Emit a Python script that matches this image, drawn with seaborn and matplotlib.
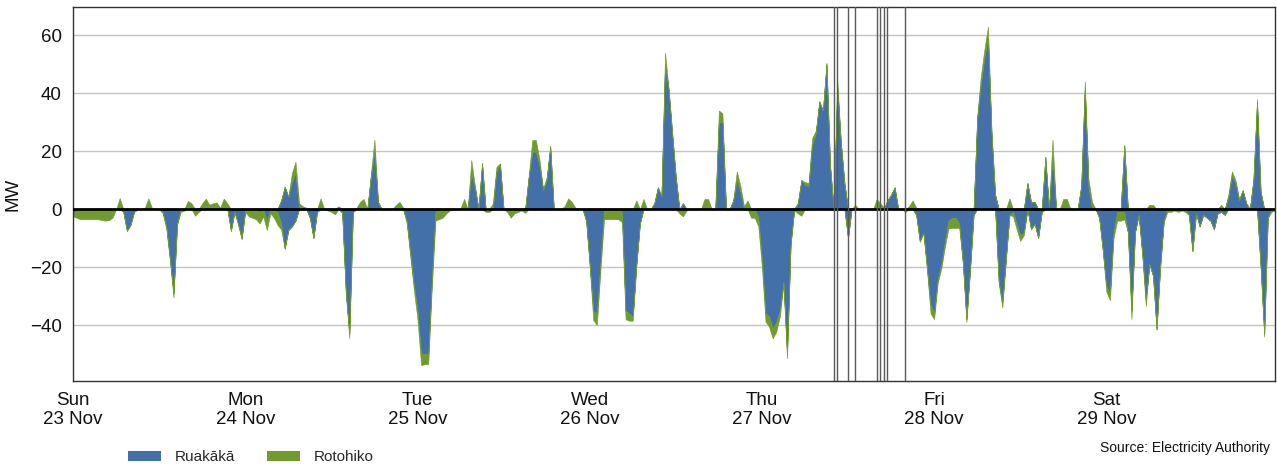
import numpy as np
import pandas as pd
import matplotlib
matplotlib.use("Agg")
import matplotlib.pyplot as plt
from matplotlib.patches import Patch
import seaborn as sns

# Half-hourly battery output (MW), Sun 23 Nov 00:00 .. Sat 29 Nov 23:30.
# One list per day, 48 trading periods each. Discharge (>0) and charge (<0)
# are kept apart so both can be stacked from the zero line.
ruakaka_gen = [
    [0, 0, 0, 0, 0, 0, 0, 0, 0, 0, 0, 0, 0, 0, 0, 0, 0, 0, 0, 0, 0, 0, 0, 0,
     0, 0, 0, 0, 0, 0, 0, 0, 0, 0, 0, 0, 0, 0, 0, 0, 0, 0, 0, 0, 0, 0, 0, 0],
    [0, 0, 0, 0, 0, 0, 0, 0, 0, 0, 3, 7.7, 4.3, 9.4, 12.3, 0, 0, 0, 0, 0, 0, 0, 0, 0,
     0, 0, 0, 0, 0, 0, 0, 0, 0, 0, 0, 11, 20, 2.5, 0, 0, 0, 0, 0, 0, 0, 0, 0, 0],
    [0, 0, 0, 0, 0, 0, 0, 0, 0, 0, 0, 0, 0, 0, 0, 12.3, 7.5, 0, 15.7, 0, 0, 0, 13, 15.5,
     0, 0, 0, 0, 0, 0, 0, 11, 19.8, 19.8, 15, 6.5, 10, 21.5, 0, 0, 0, 0, 0, 0, 0, 0, 0, 0],
    [0, 0, 0, 0, 0, 0, 0, 0, 0, 0, 0, 0, 0, 0, 0, 0, 0, 0, 2, 7.5, 4.5, 50, 41, 26,
     11, 0, 2, 0, 0, 0, 0, 0, 0, 0, 0, 0, 30, 30, 0, 0, 3, 10, 6, 0, 0, 0, 0, 0],
    [0, 0, 0, 0, 0, 0, 0, 0, 0, 0, 2, 10, 8.3, 8, 22, 26, 37, 34, 50, 15, 0, 42, 23, 9,
     0, 0, 0, 0, 0, 0, 0, 0, 0, 0, 0, 3, 5, 7.5, 0, 0, 0, 0, 0, 0, 0, 0, 0, 0],
    [0, 0, 0, 0, 0, 0, 0, 0, 0, 0, 0, 0, 31, 43, 52, 59, 26, 5, 0, 0, 0, 0, 0, 0,
     0, 0, 9, 2.5, 2.5, 0, 0, 18, 0, 18, 0, 0, 0, 0, 0, 0, 0, 8, 42, 8, 0, 0, 0, 0],
    [0, 0, 0, 0, 0, 22, 0, 0, 0, 0, 0, 0, 0, 0, 0, 0, 0, 0, 0, 0, 0, 0, 0, 0,
     0, 0, 0, 0, 0, 0, 0, 0, 0, 0, 4, 11.5, 9, 3, 6.5, 2, 0, 10, 37, 6, 0, 0, 0, 0],
]

rotohiko_gen = [
    [0, 0, 0, 0, 0, 0, 0, 0, 0, 0, 0, 0, 0, 3.8, 0, 0, 0, 0, 0, 0, 0.5, 3.7, 0.3, 0.2,
     0, 0, 0, 0, 0, 0, 0, 0, 2.8, 2, 0, 0, 2, 3.6, 1.5, 2, 2.3, 0.5, 3.6, 2, 0, 0, 0, 0],
    [0, 0, 0, 0, 0, 0, 0, 0, 0, 0, 0, 0, 0, 3, 4, 2, 1, 0.5, 0, 0, 0, 3.7, 0, 0,
     0, 0, 1, 0, 0, 0, 0, 0.5, 2.5, 3.5, 0, 1, 4, 0, 0, 0, 0, 0, 1.5, 2.5, 0.5, 0, 0, 0],
    [0, 0, 0, 0, 0, 0, 0, 0, 0, 0, 0, 0, 0.3, 3.5, 0, 4.6, 0.5, 0, 0.3, 0, 0, 2, 1.5, 0.3,
     0, 0, 0, 0, 0, 0, 0, 0.5, 4, 4, 2, 0.5, 1, 0.5, 0, 0, 0, 1, 3.7, 2.5, 0.5, 0, 0, 0],
    [0, 0, 0, 0, 0, 0, 0, 0, 0, 0, 0, 0, 0, 3, 0, 3.5, 0, 0, 0, 0, 0, 4, 0.5, 0,
     0, 0, 0, 0, 0, 0, 0, 0, 3.5, 3.5, 0, 0, 4, 3, 0, 0, 0, 3, 2, 1, 3, 0, 0, 0],
    [0, 0, 0, 0, 0, 0, 0, 0, 0, 0, 0, 0, 1, 1, 2.5, 1, 0.3, 0, 0.5, 0, 0, 2.5, 0.3, 0,
     0, 0, 1.5, 0, 0, 0, 0, 0, 3.5, 2, 0.5, 0, 0, 0, 0, 0, 0, 1, 3, 0.5, 0, 0, 0, 0],
    [0, 0, 0, 0, 0, 0, 0, 0, 0, 0, 0, 0, 1, 2.6, 3, 4, 0.5, 0, 0, 0, 0, 3.7, 0, 0,
     0, 0, 0, 0, 0, 0, 0, 0, 0, 6, 0, 0, 3.5, 3.5, 0, 0, 0, 0, 2, 2.5, 2.5, 0, 0, 0],
    [0, 0, 0, 0, 0, 0, 0, 0, 0, 0, 0, 0, 1.5, 1.5, 0, 0, 0, 0, 0, 0, 0, 0, 0, 0,
     0, 0, 0, 0, 0, 0, 0, 0, 1.5, 0, 1, 1.5, 1, 0.5, 0, 0, 0, 0.5, 1, 0, 0, 0, 0, 0],
]

ruakaka_load = [
    [-1.5, -0.5, 0, 0, 0, 0, 0, 0, 0, 0, 0, 0, 0, 0, -1, -7.5, -5.5, -1, 0, 0, 0, 0, 0, 0,
     0, -1, -6, -17, -29, -5, 0, 0, 0, 0, 0, 0, 0, 0, 0, 0, 0, 0, 0, 0, -7.5, -1, -5, -10],
    [0, 0, 0, -0.5, -1, 0, -4, 0, -0.5, -1, -5, -13.5, -7, -6, -4, 0, 0, 0, -3, -10, -1, 0, 0, 0,
     0, 0, 0, -1, -28, -43, -1, 0, 0, 0, 0, 0, 0, 0, 0, 0, 0, 0, 0, 0, 0, -4, -15, -26],
    [-35, -50, -50, -50, -24, -1, 0, 0, 0, 0, 0, 0, 0, 0, 0, 0, 0, 0, 0, 0, 0, 0, 0, 0,
     0, 0, 0, 0, 0, 0, 0, 0, 0, 0, 0, 0, 0, 0, 0, 0, 0, 0, 0, 0, 0, 0, 0, -4],
    [-19, -35, -36, -18, 0, 0, 0, 0, 0, -1, -35, -36, -37, -19, -5, 0, 0, 0, 0, 0, 0, 0, 0, 0,
     0, 0, 0, 0, 0, 0, 0, 0, 0, 0, 0, 0, 0, 0, 0, 0, 0, 0, 0, 0, 0, 0, 0, -3],
    [-17, -36, -37, -41, -39, -35, -25, -50, -12, 0, 0, 0, 0, 0, 0, 0, 0, 0, 0, 0, 0, 0, 0, 0,
     -10, 0, 0, 0, 0, 0, 0, 0, 0, 0, 0, 0, 0, 0, 0, 0, 0, 0, 0, -2, -11, -8, -20, -33],
    [-36, -24, -19, -11, -4, -3, -3, -5, -18, -38, -21, -2, 0, 0, 0, 0, 0, 0, -25, -32, -17, -2, -1, -5,
     -9, -8, 0, -7, -5, -10, -1, 0, 0, 0, 0, 0, 0, 0, 0, 0, 0, 0, 0, 0, 0, 0, -3, -14],
    [-26.5, -29, -8, -1, -1, -1, -8, -35, -8, -2, -15, -31, -19, -23, -41.5, -20, -4, 0, 0, 0, 0, 0, 0, -2,
     -14.5, -1.5, -6, -2, -3, -4, -7, -1.5, -1, -2, 0, 0, 0, 0, 0, 0, 0, 0, 0, -20, -43, -3, 0, 0],
]

rotohiko_load = [
    [-1, -2.5, -3.5, -3.5, -3.5, -3.5, -3.5, -3.5, -3.8, -4, -3.8, -3, 0, 0, 0, 0, 0, 0, 0, 0, 0, 0, 0, 0,
     0, -0.5, -1, -1, -1.5, -0.5, -1, -0.5, 0, 0, -2.3, -1, 0, 0, 0, 0, 0, 0, 0, 0, 0, 0, -0.5, -0.5],
    [-1, -2.5, -3, -3, -4, -2.5, -3.2, -1.5, -2.5, -4.5, -2, -0.3, -0.5, 0, 0, 0, 0, 0, 0, 0, 0, 0, 0, -0.5,
     -1, -1.8, 0, -0.5, -1, -1.5, 0, 0, 0, 0, 0, 0, 0, 0, 0, 0, 0, 0, 0, 0, 0, -1, -1.5, -2],
    [-3, -3.8, -3.5, -3.5, -3, -3, -3.5, -3, -1.5, -0.5, 0, 0, 0, 0, 0, 0, 0, 0, 0, -1, -1, 0, 0, 0,
     0, -1, -3, -1.5, -1, -0.5, -1.3, 0, 0, 0, 0, 0, 0, 0, 0, 0, 0, 0, 0, 0, 0, 0, 0, 0],
    [-1, -3.3, -4, -3, -3.5, -3.5, -3.5, -3.5, -3.5, -3.5, -3, -2.5, -1.5, -1, 0, 0, 0, 0, 0, 0, 0, 0, 0, 0,
     0, -1.5, -2.5, -0.5, 0, 0, 0, 0, 0, 0, 0, 0, 0, 0, 0, 0, 0, 0, 0, 0, 0, -3, -3, -3],
    [-3, -2.8, -3.6, -3.6, -3.3, -2, -1, -1.5, -0.5, -0.5, -1.5, -2.3, 0, 0, 0, 0, 0, 0, 0, 0, 0, 0, 0, 0,
     0, 0, 0, 0, 0, 0, 0, 0, 0, 0, 0, 0, 0, 0, 0, 0, -1, 0, 0, 0, -0.3, -0.3, -1, -3],
    [-2, -1.5, -1.5, -2, -2.7, -3.5, -3.5, -1.5, -1, -1, -0.5, 0, 0, 0, 0, 0, 0, 0, -0.5, -2, -1, 0, -1.5, -2,
     -2, -1, 0, 0, 0, 0, 0, 0, 0, 0, 0, 0, 0, 0, 0, 0, 0, 0, 0, 0, 0, 0, 0, -0.5],
    [-2, -2.5, -2, -3, -3, -2.5, 0, -3, 0, 0, -1, -2.5, 0, 0, 0, 0, -0.5, -1, -1, -0.5, -1, -0.5, -1, 0,
     0, 0, 0, 0, 0, 0, 0, 0, 0, 0, 0, 0, 0, 0, 0, 0, 0, 0, 0, 0, -1, 0, -1, -0.5],
]

series_names = ["Ruakākā", "Rotohiko"]
day_labels = ["Sun\n23 Nov", "Mon\n24 Nov", "Tue\n25 Nov", "Wed\n26 Nov",
              "Thu\n27 Nov", "Fri\n28 Nov", "Sat\n29 Nov"]
event_times = ["2025-11-27 10:00", "2025-11-27 10:30", "2025-11-27 12:00",
               "2025-11-27 13:00", "2025-11-27 16:00", "2025-11-27 16:30",
               "2025-11-27 17:00", "2025-11-27 17:30", "2025-11-27 20:00"]
y_ticks = [-40, -20, 0, 20, 40, 60]
source_note = "Source: Electricity Authority"

# ---- style ----
sns.set_theme(style="white")
plt.rcParams["font.family"] = ["Liberation Sans", "DejaVu Sans"]
plt.rcParams["axes.unicode_minus"] = True
blue, green = sns.color_palette(["#4470AA", "#6F9C2D"])

times = pd.date_range("2025-11-23 00:00", periods=48 * len(day_labels), freq="30min")
r_gen = np.concatenate(ruakaka_gen)
t_gen = np.concatenate(rotohiko_gen)
r_load = np.concatenate(ruakaka_load)
t_load = np.concatenate(rotohiko_load)

df = pd.DataFrame({"time": times,
                   "r_up": r_gen, "all_up": r_gen + t_gen,
                   "r_down": r_load, "all_down": r_load + t_load})

fig, ax = plt.subplots(figsize=(12.77, 4.66), dpi=100)
fig.subplots_adjust(left=0.0572, right=0.9984, top=0.985, bottom=0.1824)

# stacked areas: Ruakākā next to zero, Rotohiko stacked beyond it
kw = dict(linewidth=0.4, zorder=2)
ax.fill_between(df["time"], 0, df["r_up"], color=blue, edgecolor=blue, **kw)
ax.fill_between(df["time"], df["r_up"], df["all_up"], color=green, edgecolor=green, **kw)
ax.fill_between(df["time"], 0, df["r_down"], color=blue, edgecolor=blue, **kw)
ax.fill_between(df["time"], df["r_down"], df["all_down"], color=green, edgecolor=green, **kw)

ax.axhline(0, color="black", linewidth=2, zorder=3)
for t in pd.to_datetime(event_times):
    ax.axvline(t, color="#5a5a5a", linewidth=1, zorder=4)

ax.set_xlim(times[0], times[-1])
ax.set_ylim(-59.3, 69.7)
ax.set_yticks(y_ticks)
ax.set_xticks(pd.date_range(times[0], periods=len(day_labels), freq="D"))
ax.set_xticklabels(day_labels, linespacing=1.15)
ax.yaxis.grid(True, color="#c4c4c4", linewidth=1)
ax.xaxis.grid(False)
ax.set_axisbelow(True)

for sp in ax.spines.values():
    sp.set_color("#333333")
    sp.set_linewidth(1)
ax.tick_params(axis="both", direction="out", length=5, width=1, color="#333333",
               labelsize=13.5, labelcolor="#111111", pad=3)
ax.set_ylabel("MW", fontsize=13.5, color="#111111", labelpad=6)
ax.set_xlabel("")

handles = [Patch(facecolor=blue, edgecolor="none", label=series_names[0]),
           Patch(facecolor=green, edgecolor="none", label=series_names[1])]
fig.legend(handles=handles, loc="center left", bbox_to_anchor=(128 / 1277, 0.0193),
           ncol=2, frameon=False, fontsize=11, handlelength=2.15, handleheight=0.65,
           handletextpad=0.9, columnspacing=2.1, borderpad=0, borderaxespad=0)

fig.text(1270 / 1277, 1 - 448 / 466, source_note, ha="right", va="center",
         fontsize=10, color="#111111")

fig.savefig("out.png", dpi=100)
